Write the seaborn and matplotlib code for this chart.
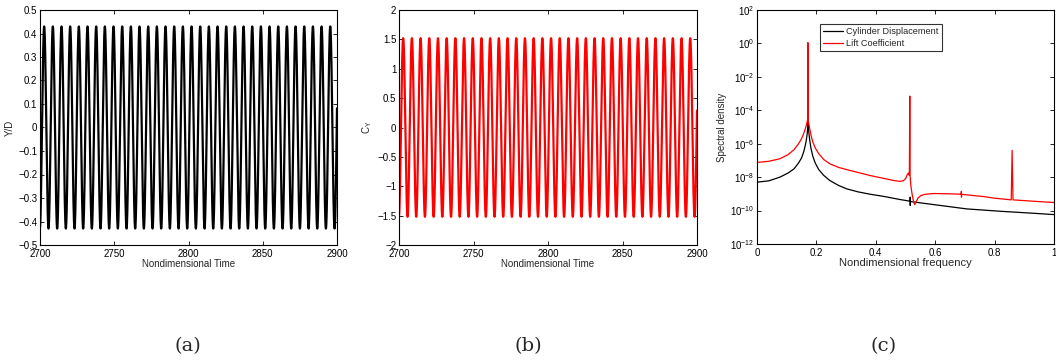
import numpy as np
import pandas as pd
import matplotlib
matplotlib.use("Agg")
import matplotlib.pyplot as plt
from matplotlib.ticker import MultipleLocator, FuncFormatter, FixedLocator
import seaborn as sns

# --- time histories (steady lock-in oscillation) ---
t_start, t_end = 2700.0, 2900.0
osc_freq = 0.1713          # nondimensional oscillation frequency
osc_peak_time = 2702.8     # time of first displacement crest
disp_amp = 0.43            # Y/D amplitude
lift_amp = 1.52            # C_Y amplitude

# --- spectral densities: (frequency, log10 density) ---
disp_f = [0.0, 0.04, 0.077, 0.105, 0.125, 0.140, 0.150, 0.157, 0.162, 0.166,
          0.169, 0.1705, 0.1712, 0.1715, 0.1718, 0.1725, 0.175, 0.178, 0.182,
          0.188, 0.196, 0.208, 0.225, 0.245, 0.275, 0.302, 0.340, 0.380,
          0.426, 0.482, 0.5155, 0.5158, 0.516, 0.5162, 0.594, 0.706, 0.818,
          0.930, 1.0]
disp_log = [-8.3, -8.22, -8.0, -7.75, -7.5, -7.15, -6.85, -6.5, -6.15, -5.8,
            -5.4, -5.1, -3.5, -1.0, -3.5, -5.0, -5.4, -5.85, -6.3,
            -6.75, -7.15, -7.55, -7.9, -8.2, -8.5, -8.7, -8.88, -9.02,
            -9.15, -9.34, -9.44, -9.2, -9.7, -9.46, -9.64, -9.9, -10.04,
            -10.16, -10.24]

lift_f = [0.0, 0.001, 0.04, 0.077, 0.105, 0.125, 0.140, 0.150, 0.157, 0.162,
          0.166, 0.169, 0.1708, 0.1712, 0.1715, 0.1718, 0.1722, 0.174, 0.178,
          0.182, 0.188, 0.196, 0.208, 0.225, 0.245, 0.275, 0.302, 0.340,
          0.380, 0.420, 0.460, 0.480, 0.492, 0.500, 0.506, 0.510, 0.513,
          0.5145, 0.5155, 0.518, 0.522, 0.527, 0.531, 0.535, 0.542, 0.552,
          0.565, 0.594, 0.650, 0.6875, 0.688, 0.6885, 0.689, 0.762, 0.800,
          0.840, 0.856, 0.859, 0.862, 0.930, 1.0]
lift_log = [-6.2, -7.12, -7.05, -6.9, -6.65, -6.35, -6.0, -5.7, -5.4, -5.15,
            -4.9, -4.7, -4.5, -2.0, 0.05, -2.0, -4.55, -4.75, -5.15,
            -5.5, -5.9, -6.25, -6.6, -6.95, -7.2, -7.42, -7.55, -7.72,
            -7.9, -8.05, -8.2, -8.25, -8.22, -8.1, -7.85, -7.75, -7.9,
            -3.15, -7.9, -8.5, -9.0, -9.45, -9.64, -9.5, -9.25, -9.1,
            -9.03, -8.98, -9.0, -9.02, -8.85, -9.2, -9.03, -9.16, -9.26,
            -9.33, -9.36, -6.4, -9.36, -9.44, -9.52]

series_names = ["Cylinder Displacement", "Lift Coefficient"]
captions = ["(a)", "(b)", "(c)"]

sns.set_style("ticks")
plt.rcParams["font.family"] = ["Liberation Sans", "DejaVu Sans"]
plt.rcParams["mathtext.fontset"] = "custom"
plt.rcParams["mathtext.rm"] = "Liberation Sans"
plt.rcParams["mathtext.it"] = "Liberation Sans"

fig = plt.figure(figsize=(10.56, 3.61), dpi=100)
W, H = 1056.0, 361.0
def add_ax(x0, x1, y0, y1):
    return fig.add_axes([x0 / W, 1 - y1 / H, (x1 - x0) / W, (y1 - y0) / H])

ax_a = add_ax(40, 337, 10, 245)
ax_b = add_ax(399, 697, 10, 245)
ax_c = add_ax(757, 1054, 10, 244)

tick_fs = 7
label_fs = 7

def matlab_fmt(v, pos):
    s = "%g" % round(v, 6)
    return s.replace("-", "\u2212")

def style_box(ax):
    for sp in ax.spines.values():
        sp.set_visible(True)
        sp.set_linewidth(0.8)
        sp.set_color("black")
    ax.tick_params(direction="in", top=True, right=True, length=3, width=0.6,
                   labelsize=tick_fs, pad=2, colors="black")
    ax.tick_params(axis="x", pad=3)
    ax.tick_params(which="minor", length=0)

t = np.linspace(t_start, t_end, 8000)
phase = 2 * np.pi * osc_freq * (t - osc_peak_time)
df_ts = pd.DataFrame({"t": t,
                      "disp": disp_amp * np.cos(phase),
                      "lift": lift_amp * np.cos(phase)})

# (a) cylinder displacement
sns.lineplot(data=df_ts, x="t", y="disp", ax=ax_a, color="black", lw=1.6,
             estimator=None)
ax_a.set_xlim(t_start, t_end)
ax_a.set_ylim(-0.5, 0.5)
ax_a.xaxis.set_major_locator(MultipleLocator(50))
ax_a.yaxis.set_major_locator(MultipleLocator(0.1))
ax_a.yaxis.set_major_formatter(FuncFormatter(matlab_fmt))
ax_a.xaxis.set_major_formatter(FuncFormatter(matlab_fmt))
ax_a.set_xlabel("Nondimensional Time", fontsize=label_fs, labelpad=0)
ax_a.set_ylabel("Y/D", fontsize=label_fs, labelpad=2)
style_box(ax_a)

# (b) lift coefficient
sns.lineplot(data=df_ts, x="t", y="lift", ax=ax_b, color="#ff0000", lw=1.6,
             estimator=None)
ax_b.set_xlim(t_start, t_end)
ax_b.set_ylim(-2, 2)
ax_b.xaxis.set_major_locator(MultipleLocator(50))
ax_b.yaxis.set_major_locator(MultipleLocator(0.5))
ax_b.yaxis.set_major_formatter(FuncFormatter(matlab_fmt))
ax_b.xaxis.set_major_formatter(FuncFormatter(matlab_fmt))
ax_b.set_xlabel("Nondimensional Time", fontsize=label_fs, labelpad=0)
ax_b.set_ylabel("C$_\\mathregular{Y}$", fontsize=label_fs, labelpad=2)
style_box(ax_b)

# (c) spectra
df_sp = pd.concat([
    pd.DataFrame({"f": disp_f, "psd": 10.0 ** np.array(disp_log),
                  "series": series_names[0]}),
    pd.DataFrame({"f": lift_f, "psd": 10.0 ** np.array(lift_log),
                  "series": series_names[1]}),
])
sns.lineplot(data=df_sp, x="f", y="psd", hue="series", ax=ax_c,
             palette=["black", "#ff0000"], lw=0.9, estimator=None, sort=False)
ax_c.set_yscale("log")
ax_c.set_xlim(0, 1)
ax_c.set_ylim(1e-12, 1e2)
ax_c.xaxis.set_major_locator(MultipleLocator(0.2))
ax_c.xaxis.set_major_formatter(FuncFormatter(matlab_fmt))
ax_c.yaxis.set_major_locator(FixedLocator([10.0 ** k for k in range(-12, 3, 2)]))
ax_c.yaxis.set_major_formatter(FuncFormatter(
    lambda v, p: "10$^{\\mathregular{%d}}$" % int(round(np.log10(v)))))
ax_c.yaxis.set_minor_locator(FixedLocator([]))
ax_c.set_xlabel("Nondimensional frequency", fontsize=8, labelpad=0)
ax_c.set_ylabel("Spectral density", fontsize=7, labelpad=2)
style_box(ax_c)
leg = ax_c.legend(loc="upper left",
                  bbox_to_anchor=((820 - 757) / 297.0, 1 - (24 - 10) / 234.0),
                  fontsize=6.6, frameon=True, fancybox=False, borderpad=0.35,
                  handlelength=2.2, handletextpad=0.3, labelspacing=0.3,
                  borderaxespad=0)
leg.get_frame().set_edgecolor("black")
leg.get_frame().set_linewidth(0.8)
for ln in leg.get_lines():
    ln.set_linewidth(0.9)

# subfigure captions
for x, cap in zip([188, 528, 884], captions):
    fig.text(x / W, 1 - 346 / H, cap, ha="center", va="center",
             fontsize=14, family=["DejaVu Serif"])

fig.savefig("out.png", dpi=100)
